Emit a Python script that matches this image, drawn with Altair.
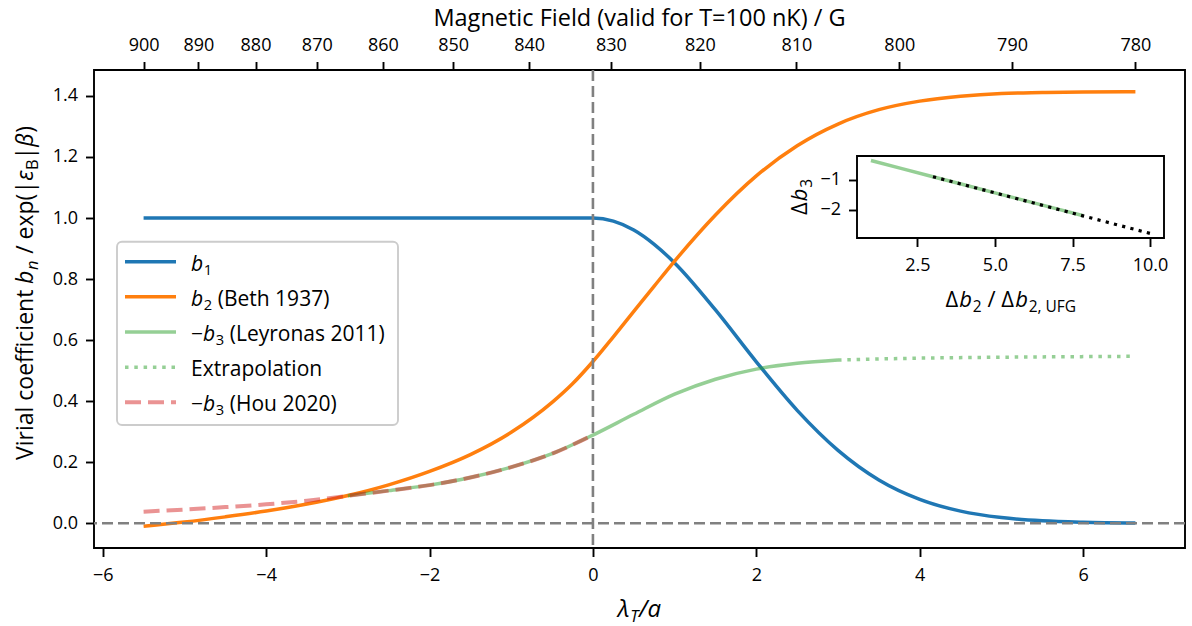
import altair as alt
import pandas as pd

FONT = "Open Sans"

# ---------------- main panel: virial coefficients vs lambda_T / a ----------------
lam = [-5.5, -5.0, -4.5, -4.0, -3.5, -3.0, -2.5, -2.0, -1.5, -1.0, -0.5, -0.25, 0.0,
       0.25, 0.5, 0.75, 1.0, 1.5, 2.0, 2.5, 3.0, 3.5, 4.0, 4.5, 5.0, 5.5, 6.0, 6.64]
b1 = [1.0, 1.0, 1.0, 1.0, 1.0, 1.0, 1.0, 1.0, 1.0, 1.0, 1.0, 1.0, 1.0,
      0.990, 0.961, 0.914, 0.853, 0.699, 0.529, 0.370, 0.239, 0.142, 0.0784, 0.0398,
      0.0187, 0.0081, 0.0033, 0.0009]
b2 = [-0.010, 0.004, 0.021, 0.040, 0.063, 0.091, 0.126, 0.170, 0.225, 0.298, 0.396, 0.457, 0.530,
      0.611, 0.694, 0.777, 0.859, 1.010, 1.138, 1.237, 1.308, 1.355, 1.383, 1.399,
      1.408, 1.411, 1.413, 1.414]

lam_leyronas = [-3.0, -2.5, -2.0, -1.5, -1.0, -0.5, 0.0, 0.5, 1.0, 1.5, 2.0, 2.5, 3.0]
b3_leyronas = [0.090, 0.107, 0.125, 0.150, 0.184, 0.228, 0.289, 0.357, 0.423, 0.472, 0.505, 0.524, 0.535]

lam_extrap = [3.0, 4.0, 5.0, 6.0, 6.64]
b3_extrap = [0.535, 0.541, 0.544, 0.546, 0.547]

lam_hou = [-5.5, -5.0, -4.5, -4.0, -3.5, -3.0, -2.5, -2.0, -1.5, -1.0, -0.5, 0.0]
b3_hou = [0.038, 0.045, 0.053, 0.062, 0.074, 0.090, 0.107, 0.125, 0.150, 0.184, 0.228, 0.289]

# secondary axis: magnetic field (T = 100 nK) and where it sits in lambda_T / a
field_gauss = [900, 890, 880, 870, 860, 850, 840, 830, 820, 810, 800, 790, 780]
field_lam = [-5.5, -4.83, -4.13, -3.38, -2.57, -1.71, -0.78, 0.22, 1.31, 2.49, 3.75, 5.13, 6.64]

x_ticks = [-6, -4, -2, 0, 2, 4, 6]
y_ticks = [0.0, 0.2, 0.4, 0.6, 0.8, 1.0, 1.2, 1.4]

# ---------------- inset: Delta b3 vs Delta b2 / Delta b2,UFG ----------------
db2_ratio = [1.0, 2.0, 3.0, 4.0, 5.0, 6.0, 7.0, 7.85]
db3 = [-0.355, -0.63, -0.90, -1.17, -1.44, -1.71, -1.98, -2.21]
fit_ratio = [3.0, 10.0]
fit_db3 = [-0.90, -2.80]
inset_x_ticks = [2.5, 5.0, 7.5, 10.0]
inset_y_ticks = [-1, -2]

# ---------------- layout ----------------
W, H = 1091, 478
PAD = {"left": 94, "top": 70, "right": 7, "bottom": 78}
INSET_BOX = {"left": 763, "right": 1070, "top": 86, "bottom": 168}
INSET_X_DOMAIN = [0.55, 10.45]
INSET_Y_DOMAIN = [-2.955, -0.205]

TICK = dict(tickSize=8.5, tickWidth=1.9, tickColor="black", domain=False, grid=False,
            labelColor="black", labelFont=FONT, title=None)
MINUS_LABEL = "replace(format(datum.value, 'd'), '-', '\u2212')"

X_SCALE = alt.Scale(domain=[-6.107, 7.247], nice=False, zero=False)
Y_SCALE = alt.Scale(domain=[-0.081, 1.485], nice=False, zero=False)

X_AXIS = alt.Axis(orient="bottom", values=x_ticks, labelExpr=MINUS_LABEL,
                  labelFontSize=18, labelPadding=10, **TICK)
Y_AXIS = alt.Axis(orient="left", values=y_ticks, format=".1f",
                  labelFontSize=18, labelPadding=8, **TICK)


def label_chain(positions, labels):
    expr = f"'{labels[-1]}'"
    for i in range(len(positions) - 2, -1, -1):
        mid = (positions[i] + positions[i + 1]) / 2
        expr = f"datum.value < {mid:.3f} ? '{labels[i]}' : ({expr})"
    return expr


TOP_AXIS = alt.Axis(orient="top", values=field_lam,
                    labelExpr=label_chain(field_lam, field_gauss),
                    labelFontSize=18, labelPadding=7, **TICK)


def series(xs, ys, color, width, dash=None, opacity=1.0, x_axis=None, y_axis=None):
    df = pd.DataFrame({"lam": xs, "val": ys})
    kw = dict(color=color, strokeWidth=width, opacity=opacity, interpolate="monotone")
    if dash:
        kw["strokeDash"] = dash
    return alt.Chart(df).mark_line(**kw).encode(
        x=alt.X("lam:Q", scale=X_SCALE, axis=x_axis),
        y=alt.Y("val:Q", scale=Y_SCALE, axis=y_axis),
    )


BLUE, ORANGE, GREEN, RED = "#1f77b4", "#ff7f0e", "#2ca02c", "#d62728"
LINE_W = 3.5

top_axis_layer = alt.Chart(pd.DataFrame({"lam": field_lam, "B": field_gauss})).mark_point(
    opacity=0, size=1
).encode(x=alt.X("lam:Q", scale=X_SCALE, axis=TOP_AXIS))

b1_line = series(lam, b1, BLUE, LINE_W, x_axis=X_AXIS, y_axis=Y_AXIS)
b2_line = series(lam, b2, ORANGE, LINE_W)
ley_line = series(lam_leyronas, b3_leyronas, GREEN, LINE_W, opacity=0.5)
ext_line = series(lam_extrap, b3_extrap, GREEN, LINE_W, dash=[3.5, 5.8], opacity=0.5)
hou_line = series(lam_hou, b3_hou, RED, 4.0, dash=[16, 7], opacity=0.5)

zero_h = alt.Chart(pd.DataFrame({"v": [0.0]})).mark_rule(
    color="gray", strokeWidth=2.6, strokeDash=[11, 5]
).encode(y=alt.Y("v:Q", scale=Y_SCALE, axis=None))
zero_v = alt.Chart(pd.DataFrame({"v": [0.0]})).mark_rule(
    color="gray", strokeWidth=2.6, strokeDash=[11, 5]
).encode(x=alt.X("v:Q", scale=X_SCALE, axis=None))

main = alt.layer(
    top_axis_layer, b1_line, b2_line, ley_line, ext_line, hou_line, zero_h, zero_v
).resolve_axis(x="independent", y="independent")

# ---------------- inset ----------------
IX = alt.Scale(domain=INSET_X_DOMAIN, range=[INSET_BOX["left"], INSET_BOX["right"]],
               nice=False, zero=False)
IY = alt.Scale(domain=INSET_Y_DOMAIN, range=[INSET_BOX["bottom"], INSET_BOX["top"]],
               nice=False, zero=False)
INSET_X_AXIS = alt.Axis(orient="bottom", offset=INSET_BOX["bottom"] - H, values=inset_x_ticks,
                        format=".1f", labelFontSize=18, labelPadding=10, zindex=1, **TICK)
INSET_Y_AXIS = alt.Axis(orient="left", offset=-INSET_BOX["left"], values=inset_y_ticks,
                        labelExpr=MINUS_LABEL, labelFontSize=18, labelPadding=8, zindex=1, **TICK)

frame = alt.Chart(pd.DataFrame({
    "x0": [INSET_X_DOMAIN[0]], "x1": [INSET_X_DOMAIN[1]],
    "y0": [INSET_Y_DOMAIN[0]], "y1": [INSET_Y_DOMAIN[1]],
})).mark_rect(fill="white", stroke="black", strokeWidth=1.9).encode(
    x=alt.X("x0:Q", scale=IX, axis=INSET_X_AXIS), x2="x1:Q",
    y=alt.Y("y0:Q", scale=IY, axis=INSET_Y_AXIS), y2="y1:Q",
)
inset_green = alt.Chart(pd.DataFrame({"r": db2_ratio, "d": db3})).mark_line(
    color=GREEN, opacity=0.5, strokeWidth=LINE_W
).encode(x=alt.X("r:Q", scale=IX, axis=None), y=alt.Y("d:Q", scale=IY, axis=None))
inset_fit = alt.Chart(pd.DataFrame({"r": fit_ratio, "d": fit_db3})).mark_line(
    color="black", strokeWidth=3.2, strokeDash=[3.2, 5.3]
).encode(x=alt.X("r:Q", scale=IX, axis=None), y=alt.Y("d:Q", scale=IY, axis=None))

inset = alt.layer(frame, inset_green, inset_fit).resolve_axis(x="independent", y="independent")

# ---------------- text with sub/superscripts ----------------
ONE = pd.DataFrame({"k": [0]})
CHAR_EM = {
    " ": 0.26, "(": 0.296, ")": 0.296, "/": 0.371, "|": 0.551, "=": 0.571, ",": 0.244,
    ".": 0.267, "\u2212": 0.571,
    "a": 0.556, "b": 0.613, "c": 0.479, "d": 0.613, "e": 0.561, "f": 0.336, "g": 0.537,
    "h": 0.613, "i": 0.252, "k": 0.535, "l": 0.252, "n": 0.613, "o": 0.602, "p": 0.613,
    "r": 0.408, "s": 0.477, "t": 0.352, "u": 0.613, "v": 0.5, "x": 0.524, "y": 0.5,
    "B": 0.633, "E": 0.556, "F": 0.528, "G": 0.709, "H": 0.737, "K": 0.614, "L": 0.519,
    "M": 0.9, "T": 0.539, "U": 0.712, "V": 0.588,
    "\u0394": 0.63, "\u03b5": 0.47, "\u03b2": 0.61, "\u03bb": 0.52,
}
for digit in "0123456789":
    CHAR_EM[digit] = 0.572


def em_width(s):
    return sum(CHAR_EM.get(c, 0.56) for c in s)


def rich_text(parts, x, y, angle=0, anchor="center"):
    widths = [em_width(t) * size for t, size, _, _ in parts]
    offset = -sum(widths) / 2 if anchor == "center" else 0.0
    layers = []
    for (t, size, italic, shift), w in zip(parts, widths):
        lead = len(t) - len(t.lstrip(" "))
        layers.append(
            alt.Chart(ONE).mark_text(
                text=t.strip(), font=FONT, fontSize=size,
                fontStyle="italic" if italic else "normal",
                align="left", baseline="alphabetic", angle=angle,
                dx=offset + lead * CHAR_EM[" "] * size, dy=shift, color="black",
            ).encode(x=alt.value(x), y=alt.value(y))
        )
        offset += w
    return layers


TITLE = 24
SUB = 16.5
texts = []
texts.append(
    alt.Chart(ONE).mark_text(
        text="Magnetic Field (valid for T=100 nK) / G", font=FONT, fontSize=23.5,
        align="center", baseline="alphabetic", color="black",
    ).encode(x=alt.value(W / 2), y=alt.value(-44.5))
)
texts += rich_text([("\u03bb", TITLE, True, 0), ("T", SUB, True, 5), ("/a", TITLE, True, 0)],
                   W / 2, 546.5)
texts += rich_text([
    ("Virial coefficient ", 23, False, 0), ("b", 23, True, 0), ("n", SUB, True, 5),
    (" / exp(|", 23, False, 0), ("\u03b5", 23, True, 0), ("B", SUB, False, 5),
    ("|", 23, False, 0), ("\u03b2", 23, True, 0), (")", 23, False, 0),
], -61, 223, angle=270)
INSET_LABEL = 22
INSET_SUB = 15.5
texts += rich_text([("\u0394", INSET_LABEL, False, 0), ("b", INSET_LABEL, True, 0),
                    ("2", INSET_SUB, False, 5), (" / ", INSET_LABEL, False, 0),
                    ("\u0394", INSET_LABEL, False, 0), ("b", INSET_LABEL, True, 0),
                    ("2, UFG", INSET_SUB, False, 5)],
                   (INSET_BOX["left"] + INSET_BOX["right"]) / 2, 236.5)
texts += rich_text([("\u0394", INSET_LABEL, False, 0), ("b", INSET_LABEL, True, 0),
                    ("3", INSET_SUB, False, 5)],
                   713, (INSET_BOX["top"] + INSET_BOX["bottom"]) / 2, angle=270)

# ---------------- legend ----------------
LEG = 21
LEG_SUB = 14.7
legend_rows = [191.7, 226.85, 262.0, 297.15, 332.3]
legend_styles = [
    dict(color=BLUE, strokeWidth=LINE_W),
    dict(color=ORANGE, strokeWidth=LINE_W),
    dict(color=GREEN, strokeWidth=LINE_W, opacity=0.5),
    dict(color=GREEN, strokeWidth=LINE_W, opacity=0.5, strokeDash=[3.5, 5.8]),
    dict(color=RED, strokeWidth=4.0, opacity=0.5, strokeDash=[16, 7]),
]
legend_labels = [
    [("b", LEG, True, 0), ("1", LEG_SUB, False, 4)],
    [("b", LEG, True, 0), ("2", LEG_SUB, False, 4), (" (Beth 1937)", LEG, False, 0)],
    [("\u2212", LEG, False, 0), ("b", LEG, True, 0), ("3", LEG_SUB, False, 4),
     (" (Leyronas 2011)", LEG, False, 0)],
    [("Extrapolation", LEG, False, 0)],
    [("\u2212", LEG, False, 0), ("b", LEG, True, 0), ("3", LEG_SUB, False, 4),
     (" (Hou 2020)", LEG, False, 0)],
]

legend = [
    alt.Chart(ONE).mark_rect(
        fill="white", fillOpacity=0.8, stroke="#cccccc", strokeWidth=1.9, cornerRadius=5
    ).encode(x=alt.value(23), x2=alt.value(304), y=alt.value(171.7), y2=alt.value(355))
]
for y_row, style, label in zip(legend_rows, legend_styles, legend_labels):
    legend.append(alt.Chart(ONE).mark_rule(**style).encode(
        x=alt.value(31), x2=alt.value(82), y=alt.value(y_row)))
    legend += rich_text(label, 97, y_row + 9, anchor="left")

chart = alt.layer(main, inset, *legend, *texts).resolve_scale(
    x="independent", y="independent"
).properties(
    width=W, height=H, padding=PAD, autosize=alt.AutoSizeParams(type="none"),
    background="white",
).configure(font=FONT).configure_view(stroke="black", strokeWidth=1.9)

chart.save("out.html", embed_options={"renderer": "svg", "actions": False})
